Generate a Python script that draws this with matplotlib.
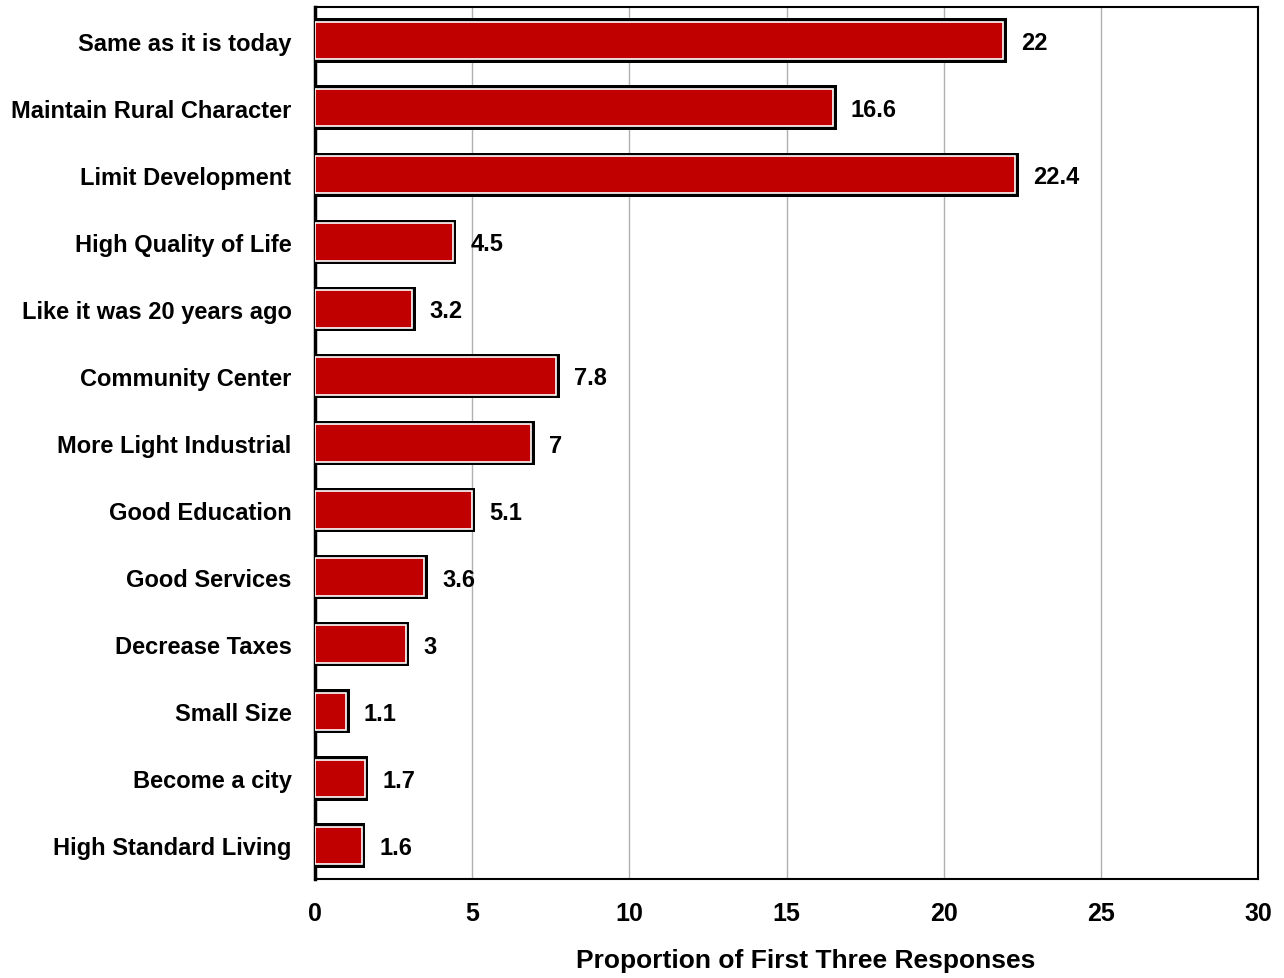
import matplotlib.pyplot as plt

# data, top to bottom
categories = ["Same as it is today", "Maintain Rural Character", "Limit Development",
              "High Quality of Life", "Like it was 20 years ago", "Community Center",
              "More Light Industrial", "Good Education", "Good Services",
              "Decrease Taxes", "Small Size", "Become a city", "High Standard Living"]
values = [22, 16.6, 22.4, 4.5, 3.2, 7.8, 7, 5.1, 3.6, 3, 1.1, 1.7, 1.6]
xticks = [0, 5, 10, 15, 20, 25, 30]

plt.rcParams['font.family'] = ['Liberation Sans', 'DejaVu Sans']
plt.rcParams['font.weight'] = 'bold'

fig = plt.figure(figsize=(12.84, 9.79), dpi=100)
ax = fig.add_axes([315/1284, 1-880/979, (1258-315)/1284, (880-8)/979])

ypos = list(range(len(categories)))
# black outline, then red fill with thin white inner edge
ax.barh(ypos, values, height=0.66, color="black", zorder=3)
ax.barh(ypos, [v - 0.12 for v in values], height=0.56, color="#C00000",
        edgecolor="white", linewidth=1.2, zorder=4)

for y, v in zip(ypos, values):
    ax.text(v + 0.45, y + 0.03, f"{v:g}", va="center", ha="left", fontsize=17,
            fontweight="bold", zorder=5)

ax.set_ylim(len(categories) - 0.5, -0.5)
ax.set_xlim(0, 30)
ax.set_xticks(xticks)
ax.set_xticklabels([str(t) for t in xticks], fontsize=18, fontweight="bold")
ax.set_yticks(ypos)
ax.set_yticklabels(categories, fontsize=17, fontweight="bold")
ax.tick_params(axis="both", length=0)
ax.tick_params(axis="y", pad=17)
ax.tick_params(axis="x", pad=16)
ax.xaxis.grid(True, color="#b0b0b0", linewidth=1.0, zorder=0)
ax.set_axisbelow(True)
for s in ax.spines.values():
    s.set_color("black")
    s.set_linewidth(1.5)
ax.spines["left"].set_linewidth(2.5)

ax.set_xlabel("Proportion of First Three Responses", fontsize=19, fontweight="bold")
ax.xaxis.set_label_coords(0.52, -0.079)

fig.savefig("out.png", dpi=100)
